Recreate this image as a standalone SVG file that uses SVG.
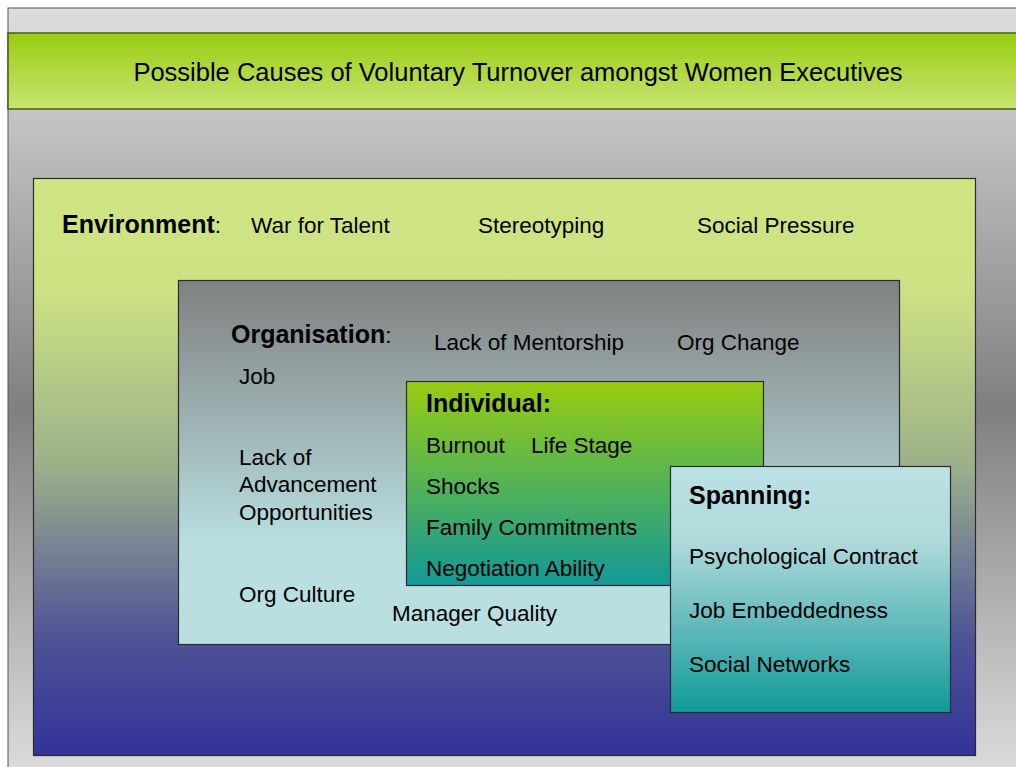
<svg xmlns="http://www.w3.org/2000/svg" width="1016" height="767" viewBox="0 0 1016 767">
<defs>
<linearGradient id="gBg" x1="0" y1="0" x2="0" y2="1">
<stop offset="0" stop-color="#dddddd"/><stop offset="0.52" stop-color="#808080"/><stop offset="1" stop-color="#dddddd"/>
</linearGradient>
<linearGradient id="gTitle" x1="0" y1="0" x2="0" y2="1">
<stop offset="0" stop-color="#99cc11"/><stop offset="1" stop-color="#c8e472"/>
</linearGradient>
<linearGradient id="gEnv" x1="0" y1="0" x2="0" y2="1">
<stop offset="0" stop-color="#d0e684"/><stop offset="0.2" stop-color="#cbe183"/><stop offset="0.5" stop-color="#9caf8a"/><stop offset="0.66" stop-color="#727d94"/><stop offset="0.8" stop-color="#4e5296"/><stop offset="1" stop-color="#333399"/>
</linearGradient>
<linearGradient id="gOrg" x1="0" y1="0" x2="0" y2="1">
<stop offset="0" stop-color="#808080"/><stop offset="0.72" stop-color="#b8dee0"/><stop offset="1" stop-color="#b9dfe1"/>
</linearGradient>
<linearGradient id="gInd" x1="0" y1="0" x2="0" y2="1">
<stop offset="0" stop-color="#99cc11"/><stop offset="1" stop-color="#119999"/>
</linearGradient>
<linearGradient id="gSpan" x1="0" y1="0" x2="0" y2="1">
<stop offset="0" stop-color="#bbe1e4"/><stop offset="0.3" stop-color="#b0dadc"/><stop offset="1" stop-color="#119999"/>
</linearGradient>
</defs>
<style>
text{font-family:"Liberation Sans",Arial,sans-serif;fill:#000;font-size:22.5px}
.b{font-weight:bold;font-size:25px}
.t{font-size:25.5px}
.box{stroke:#2b2b2b;stroke-width:1.2}
</style>
<rect x="8" y="8" width="1020" height="770" fill="url(#gBg)" stroke="#555" stroke-width="1"/>
<g id="title">
<rect x="8" y="33" width="1020" height="76" fill="url(#gTitle)" stroke="#4a5a1a" stroke-width="1.5"/>
<text class="t" x="518" y="81" text-anchor="middle">Possible Causes of Voluntary Turnover amongst Women Executives</text>
</g>
<g id="environment">
<rect class="box" x="33.5" y="178.5" width="942" height="577" fill="url(#gEnv)"/>
<text x="62" y="233"><tspan class="b">Environment</tspan>:</text>
<text x="251" y="233">War for Talent</text>
<text x="478" y="233">Stereotyping</text>
<text x="697" y="233">Social Pressure</text>
</g>
<g id="organisation">
<rect class="box" x="178.5" y="280.5" width="721" height="364" fill="url(#gOrg)"/>
<text x="231" y="343"><tspan class="b">Organisation</tspan>:</text>
<text x="434" y="350">Lack of Mentorship</text>
<text x="677" y="350">Org Change</text>
<text x="239" y="384">Job</text>
<text x="239" y="465">Lack of</text>
<text x="239" y="492">Advancement</text>
<text x="239" y="520">Opportunities</text>
<text x="239" y="602">Org Culture</text>
<text x="392" y="621">Manager Quality</text>
</g>
<g id="individual">
<rect class="box" x="406.5" y="381.5" width="357" height="204" fill="url(#gInd)"/>
<text class="b" x="426" y="412">Individual:</text>
<text x="426" y="453">Burnout</text>
<text x="531" y="453">Life Stage</text>
<text x="426" y="494">Shocks</text>
<text x="426" y="535">Family Commitments</text>
<text x="426" y="576">Negotiation Ability</text>
</g>
<g id="spanning">
<rect class="box" x="670.5" y="466.5" width="280" height="246" fill="url(#gSpan)"/>
<text class="b" x="689" y="504">Spanning:</text>
<text x="689" y="564">Psychological Contract</text>
<text x="689" y="618">Job Embeddedness</text>
<text x="689" y="672">Social Networks</text>
</g>
<g id="connectors"/>
</svg>
